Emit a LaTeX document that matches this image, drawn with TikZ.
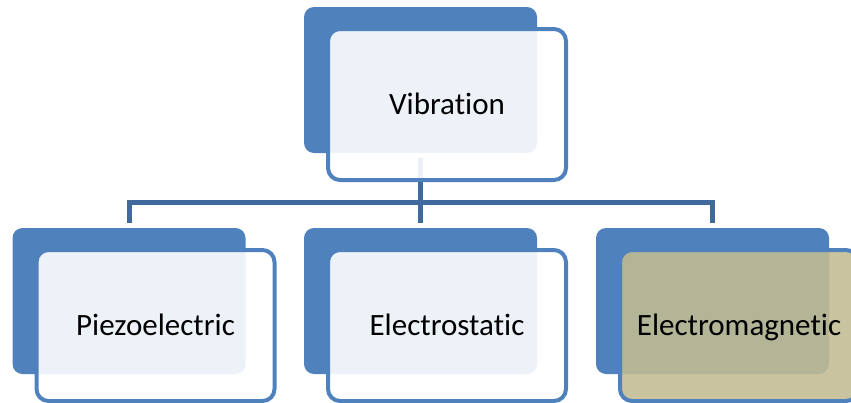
\documentclass[tikz,border=0pt]{standalone}
\usepackage{fontspec}
\setmainfont{Carlito}[Ligatures=NoCommon]
\usepackage{xcolor}
\definecolor{boxblue}{RGB}{79,129,189}
\definecolor{linkblue}{RGB}{64,106,158}
\definecolor{magfill}{RGB}{194,187,147}

\begin{document}
\begin{tikzpicture}[
    x=1pt, y=-1pt,
    back/.style={rectangle, fill=boxblue, rounded corners=10pt, minimum width=233pt, minimum height=146pt, inner sep=0pt},
    front/.style={rectangle, draw=boxblue, line width=4pt, fill=white, fill opacity=0.9, text opacity=1, rounded corners=12pt, minimum width=238pt, minimum height=151pt, inner sep=0pt, font=\fontsize{31}{37}\selectfont, text height=21pt, text depth=2pt},
    link/.style={draw=linkblue, line width=5pt, shorten <=5pt, shorten >=5pt}
]
\useasboundingbox (0,0) rectangle (851,402);

\node (vibBack) [back] at (420.5,80) {};
\node (piezoBack) [back] at (129,301) {};
\node (statBack) [back] at (420.5,301) {};
\node (magBack) [back] at (712.5,301) {};

\foreach \leaf in {piezoBack, statBack, magBack}
    \draw [link] (vibBack.south) -- ++(0,49.5) -| (\leaf.north);

\node (vib) [front] at ([shift={(26.5,24.5)}]vibBack.center) {Vibration};
\node (piezo) [front] at ([shift={(26.5,24.5)}]piezoBack.center) {Piezoelectric};
\node (stat) [front] at ([shift={(26.5,24.5)}]statBack.center) {Electrostatic};
\node (mag) [front, fill=magfill, fill opacity=0.886] at ([shift={(26.5,24.5)}]magBack.center) {Electromagnetic};

\end{tikzpicture}
\end{document}
